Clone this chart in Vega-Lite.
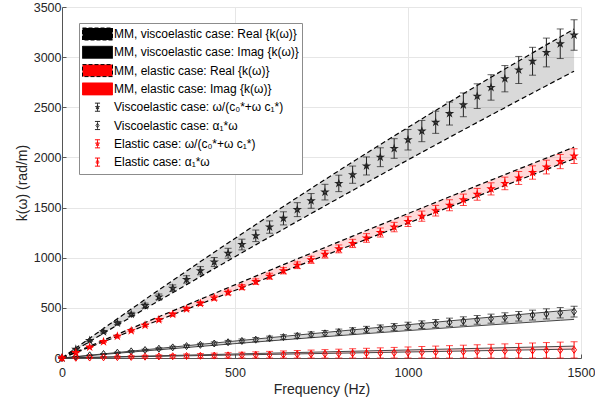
{
  "$schema": "https://vega.github.io/schema/vega-lite/v6.json",
  "width": 519,
  "height": 351,
  "autosize": {"type": "none"},
  "padding": {"left": 62, "top": 7, "right": 14, "bottom": 48},
  "config": {
    "view": {"stroke": null},
    "font": "Liberation Sans",
    "legend": {"symbolFillColor": "#000000"},
    "axis": {
      "grid": true,
      "gridColor": "#e6e6e6",
      "gridWidth": 1,
      "domainColor": "#555555",
      "tickColor": "#555555",
      "tickSize": -4,
      "format": "d",
      "labelFont": "Liberation Sans",
      "labelFontSize": 12.5,
      "labelColor": "#262626",
      "titleFont": "Liberation Sans",
      "titleFontSize": 14,
      "titleFontWeight": "normal",
      "titleColor": "#262626"
    }
  },
  "data": {"values": [
    {"f":0,"vr":0,"vrl":0,"vrh":0,"vu":0,"vd":0,"vi":0,"vil":0,"vih":0,"viu":0,"vid":0,"er":0,"erl":0,"erh":0,"eru":0,"erd":0,"ei":0,"eil":0,"eih":0,"eiu":0,"eid":0},
    {"f":40,"vr":87,"vrl":83,"vrh":91,"vu":98.6,"vd":82.4,"vi":13.4,"vil":11.8,"vih":14.9,"viu":13.8,"vid":12.0,"er":54.4,"erl":52.4,"erh":56.4,"eru":59.1,"erd":54.0,"ei":2.2,"eil":0,"eih":4.4,"eiu":3.2,"eid":2.4},
    {"f":80,"vr":174,"vrl":166,"vrh":182,"vu":196.7,"vd":164.6,"vi":26.7,"vil":23.6,"vih":29.8,"viu":27.5,"vid":23.8,"er":108.8,"erl":104.9,"erh":112.7,"eru":118.1,"erd":108.0,"ei":4.4,"eil":0,"eih":8.8,"eiu":6.4,"eid":4.8},
    {"f":120,"vr":261,"vrl":249,"vrh":273,"vu":294.2,"vd":246.5,"vi":40.0,"vil":35.4,"vih":44.6,"viu":41.2,"vid":35.6,"er":163.2,"erl":157.3,"erh":169.1,"eru":177.0,"erd":161.9,"ei":6.6,"eil":0,"eih":13.2,"eiu":9.6,"eid":7.2},
    {"f":160,"vr":348,"vrl":332,"vrh":365,"vu":391.2,"vd":328.1,"vi":53.2,"vil":47.1,"vih":59.3,"viu":54.9,"vid":47.3,"er":217.6,"erl":209.8,"erh":225.4,"eru":235.8,"erd":215.9,"ei":8.8,"eil":0,"eih":17.6,"eiu":12.8,"eid":9.6},
    {"f":200,"vr":435,"vrl":415,"vrh":456,"vu":487.6,"vd":409.4,"vi":66.4,"vil":58.8,"vih":74.0,"viu":68.5,"vid":58.9,"er":272,"erl":262.2,"erh":281.8,"eru":294.4,"erd":269.8,"ei":11,"eil":0,"eih":22,"eiu":16,"eid":12},
    {"f":240,"vr":522,"vrl":498,"vrh":547,"vu":583.4,"vd":490.4,"vi":79.5,"vil":70.4,"vih":88.7,"viu":82.1,"vid":70.5,"er":326.4,"erl":314.7,"erh":338.2,"eru":352.9,"erd":323.7,"ei":13.2,"eil":0,"eih":26.4,"eiu":19.2,"eid":14.4},
    {"f":280,"vr":609,"vrl":581,"vrh":638,"vu":678.7,"vd":571.1,"vi":92.6,"vil":82.0,"vih":103.3,"viu":95.6,"vid":81.9,"er":380.8,"erl":367.1,"erh":394.5,"eru":411.3,"erd":377.6,"ei":15.4,"eil":0,"eih":30.8,"eiu":22.4,"eid":16.8},
    {"f":320,"vr":696,"vrl":664,"vrh":729,"vu":773.5,"vd":651.5,"vi":105.7,"vil":93.5,"vih":117.8,"viu":109.1,"vid":93.2,"er":435.2,"erl":419.5,"erh":450.9,"eru":469.5,"erd":431.5,"ei":17.6,"eil":0,"eih":35.2,"eiu":25.6,"eid":19.2},
    {"f":360,"vr":783,"vrl":747,"vrh":820,"vu":867.7,"vd":731.7,"vi":118.7,"vil":105.0,"vih":132.3,"viu":122.5,"vid":104.5,"er":489.6,"erl":472.0,"erh":507.2,"eru":527.6,"erd":485.4,"ei":19.8,"eil":0,"eih":39.6,"eiu":28.8,"eid":21.6},
    {"f":400,"vr":870,"vrl":830,"vrh":911,"vu":961.3,"vd":811.6,"vi":131.6,"vil":116.5,"vih":146.7,"viu":135.9,"vid":115.7,"er":544,"erl":524.4,"erh":563.6,"eru":585.6,"erd":539.2,"ei":22,"eil":0,"eih":44,"eiu":32,"eid":24},
    {"f":440,"vr":957,"vrl":912,"vrh":1002,"vu":1054.4,"vd":891.2,"vi":144.5,"vil":127.9,"vih":161.1,"viu":149.3,"vid":126.8,"er":598.4,"erl":576.9,"erh":619.9,"eru":643.5,"erd":593.0,"ei":24.2,"eil":0,"eih":48.4,"eiu":35.2,"eid":26.4},
    {"f":480,"vr":1044,"vrl":995,"vrh":1094,"vu":1146.9,"vd":970.5,"vi":157.3,"vil":139.2,"vih":175.4,"viu":162.6,"vid":137.8,"er":652.8,"erl":629.3,"erh":676.3,"eru":701.2,"erd":646.9,"ei":26.4,"eil":0,"eih":52.8,"eiu":38.4,"eid":28.8},
    {"f":520,"vr":1132,"vrl":1078,"vrh":1185,"vu":1238.9,"vd":1049.5,"vi":170.1,"vil":150.6,"vih":189.7,"viu":175.9,"vid":148.7,"er":707.2,"erl":681.7,"erh":732.7,"eru":758.8,"erd":700.7,"ei":28.6,"eil":0,"eih":57.2,"eiu":41.6,"eid":31.2},
    {"f":560,"vr":1219,"vrl":1161,"vrh":1276,"vu":1330.3,"vd":1128.2,"vi":182.9,"vil":161.9,"vih":203.9,"viu":189.1,"vid":159.5,"er":761.6,"erl":734.2,"erh":789.0,"eru":816.3,"erd":754.4,"ei":30.8,"eil":0,"eih":61.6,"eiu":44.8,"eid":33.6},
    {"f":600,"vr":1306,"vrl":1244,"vrh":1367,"vu":1421.2,"vd":1206.6,"vi":195.6,"vil":173.1,"vih":218.1,"viu":202.3,"vid":170.3,"er":816,"erl":786.6,"erh":845.4,"eru":873.6,"erd":808.2,"ei":33,"eil":0,"eih":66,"eiu":48,"eid":36},
    {"f":640,"vr":1393,"vrl":1327,"vrh":1458,"vu":1511.5,"vd":1284.8,"vi":208.3,"vil":184.3,"vih":232.2,"viu":215.5,"vid":180.9,"er":870.4,"erl":839.1,"erh":901.7,"eru":930.8,"erd":862.0,"ei":35.2,"eil":0,"eih":70.4,"eiu":51.2,"eid":38.4},
    {"f":680,"vr":1480,"vrl":1410,"vrh":1549,"vu":1601.3,"vd":1362.7,"vi":220.9,"vil":195.5,"vih":246.3,"viu":228.6,"vid":191.5,"er":924.8,"erl":891.5,"erh":958.1,"eru":987.9,"erd":915.7,"ei":37.4,"eil":0,"eih":74.8,"eiu":54.4,"eid":40.8},
    {"f":720,"vr":1567,"vrl":1493,"vrh":1640,"vu":1690.5,"vd":1440.2,"vi":233.4,"vil":206.6,"vih":260.3,"viu":241.7,"vid":202.0,"er":979.2,"erl":944.0,"erh":1014.5,"eru":1044.9,"erd":969.4,"ei":39.6,"eil":0,"eih":79.2,"eiu":57.6,"eid":43.2},
    {"f":760,"vr":1654,"vrl":1576,"vrh":1732,"vu":1779.2,"vd":1517.5,"vi":245.9,"vil":217.7,"vih":274.2,"viu":254.7,"vid":212.4,"er":1033.6,"erl":996.4,"erh":1070.8,"eru":1101.7,"erd":1023.1,"ei":41.8,"eil":0,"eih":83.6,"eiu":60.8,"eid":45.6},
    {"f":800,"vr":1741,"vrl":1659,"vrh":1823,"vu":1867.3,"vd":1594.5,"vi":258.4,"vil":228.7,"vih":288.1,"viu":267.7,"vid":222.7,"er":1088,"erl":1048.8,"erh":1127.2,"eru":1158.4,"erd":1076.8,"ei":44,"eil":0,"eih":88,"eiu":64,"eid":48},
    {"f":840,"vr":1828,"vrl":1742,"vrh":1914,"vu":1954.8,"vd":1671.3,"vi":270.8,"vil":239.7,"vih":302.0,"viu":280.6,"vid":233.0,"er":1142.4,"erl":1101.3,"erh":1183.5,"eru":1215.0,"erd":1130.5,"ei":46.2,"eil":0,"eih":92.4,"eiu":67.2,"eid":50.4},
    {"f":880,"vr":1915,"vrl":1825,"vrh":2005,"vu":2041.8,"vd":1747.7,"vi":283.2,"vil":250.6,"vih":315.7,"viu":293.5,"vid":243.1,"er":1196.8,"erl":1153.7,"erh":1239.9,"eru":1271.4,"erd":1184.1,"ei":48.4,"eil":0,"eih":96.8,"eiu":70.4,"eid":52.8},
    {"f":920,"vr":2002,"vrl":1908,"vrh":2096,"vu":2128.3,"vd":1823.9,"vi":295.5,"vil":261.5,"vih":329.5,"viu":306.4,"vid":253.2,"er":1251.2,"erl":1206.2,"erh":1296.2,"eru":1327.7,"erd":1237.8,"ei":50.6,"eil":0,"eih":101.2,"eiu":73.6,"eid":55.2},
    {"f":960,"vr":2089,"vrl":1991,"vrh":2187,"vu":2214.2,"vd":1899.7,"vi":307.8,"vil":272.4,"vih":343.2,"viu":319.2,"vid":263.1,"er":1305.6,"erl":1258.6,"erh":1352.6,"eru":1383.9,"erd":1291.4,"ei":52.8,"eil":0,"eih":105.6,"eiu":76.8,"eid":57.6},
    {"f":1000,"vr":2176,"vrl":2074,"vrh":2278,"vu":2299.5,"vd":1975.3,"vi":320,"vil":283.2,"vih":356.8,"viu":332,"vid":273,"er":1360,"erl":1311.0,"erh":1409.0,"eru":1440,"erd":1345,"ei":55,"eil":0,"eih":110,"eiu":80,"eid":60},
    {"f":1040,"vr":2263,"vrl":2157,"vrh":2369,"vu":2384.3,"vd":2050.6,"vi":332.2,"vil":294.0,"vih":370.4,"viu":344.7,"vid":282.8,"er":1414.4,"erl":1363.5,"erh":1465.3,"eru":1495.9,"erd":1398.6,"ei":57.2,"eil":0,"eih":114.4,"eiu":83.2,"eid":62.4},
    {"f":1080,"vr":2350,"vrl":2240,"vrh":2461,"vu":2468.5,"vd":2125.6,"vi":344.3,"vil":304.7,"vih":383.9,"viu":357.4,"vid":292.5,"er":1468.8,"erl":1415.9,"erh":1521.7,"eru":1551.7,"erd":1452.2,"ei":59.4,"eil":0,"eih":118.8,"eiu":86.4,"eid":64.8},
    {"f":1120,"vr":2437,"vrl":2323,"vrh":2552,"vu":2552.2,"vd":2200.3,"vi":356.4,"vil":315.4,"vih":397.4,"viu":370.1,"vid":302.1,"er":1523.2,"erl":1468.4,"erh":1578.0,"eru":1607.4,"erd":1505.7,"ei":61.6,"eil":0,"eih":123.2,"eiu":89.6,"eid":67.2},
    {"f":1160,"vr":2524,"vrl":2406,"vrh":2643,"vu":2635.3,"vd":2274.8,"vi":368.4,"vil":326.0,"vih":410.8,"viu":382.7,"vid":311.7,"er":1577.6,"erl":1520.8,"erh":1634.4,"eru":1663.0,"erd":1559.3,"ei":63.8,"eil":0,"eih":127.6,"eiu":92.8,"eid":69.6},
    {"f":1200,"vr":2611,"vrl":2488,"vrh":2734,"vu":2717.9,"vd":2348.9,"vi":380.4,"vil":336.7,"vih":424.1,"viu":395.3,"vid":321.1,"er":1632,"erl":1573.2,"erh":1690.8,"eru":1718.4,"erd":1612.8,"ei":66,"eil":0,"eih":132,"eiu":96,"eid":72},
    {"f":1240,"vr":2698,"vrl":2571,"vrh":2825,"vu":2799.9,"vd":2422.8,"vi":392.3,"vil":347.2,"vih":437.5,"viu":407.8,"vid":330.5,"er":1686.4,"erl":1625.7,"erh":1747.1,"eru":1773.7,"erd":1666.3,"ei":68.2,"eil":0,"eih":136.4,"eiu":99.2,"eid":74.4},
    {"f":1280,"vr":2785,"vrl":2654,"vrh":2916,"vu":2881.4,"vd":2496.3,"vi":404.2,"vil":357.7,"vih":450.7,"viu":420.3,"vid":339.8,"er":1740.8,"erl":1678.1,"erh":1803.5,"eru":1828.9,"erd":1719.8,"ei":70.4,"eil":0,"eih":140.8,"eiu":102.4,"eid":76.8},
    {"f":1320,"vr":2872,"vrl":2737,"vrh":3007,"vu":2962.3,"vd":2569.6,"vi":416.1,"vil":368.2,"vih":463.9,"viu":432.8,"vid":349.0,"er":1795.2,"erl":1730.6,"erh":1859.8,"eru":1883.9,"erd":1773.3,"ei":72.6,"eil":0,"eih":145.2,"eiu":105.6,"eid":79.2},
    {"f":1360,"vr":2959,"vrl":2820,"vrh":3098,"vu":3042.6,"vd":2642.6,"vi":427.9,"vil":378.7,"vih":477.1,"viu":445.2,"vid":358.1,"er":1849.6,"erl":1783.0,"erh":1916.2,"eru":1938.8,"erd":1826.8,"ei":74.8,"eil":0,"eih":149.6,"eiu":108.8,"eid":81.6},
    {"f":1400,"vr":3046,"vrl":2903,"vrh":3190,"vu":3122.4,"vd":2715.4,"vi":439.6,"vil":389.0,"vih":490.2,"viu":457.5,"vid":367.1,"er":1904,"erl":1835.5,"erh":1972.5,"eru":1993.6,"erd":1880.2,"ei":77,"eil":0,"eih":154,"eiu":112,"eid":84},
    {"f":1440,"vr":3133,"vrl":2986,"vrh":3281,"vu":3201.7,"vd":2787.8,"vi":451.3,"vil":399.4,"vih":503.2,"viu":469.8,"vid":376.0,"er":1958.4,"erl":1887.9,"erh":2028.9,"eru":2048.3,"erd":1933.6,"ei":79.2,"eil":0,"eih":158.4,"eiu":115.2,"eid":86.4},
    {"f":1480,"vr":3220,"vrl":3069,"vrh":3372,"vu":3280.4,"vd":2859.9,"vi":462.9,"vil":409.7,"vih":516.2,"viu":482.1,"vid":384.9,"er":2012.8,"erl":1940.3,"erh":2085.3,"eru":2102.8,"erd":1987.1,"ei":81.4,"eil":0,"eih":162.8,"eiu":118.4,"eid":88.8}
  ]},
  "encoding": {
    "x": {"field": "f", "type": "quantitative",
      "scale": {"domain": [0, 1500], "nice": false, "zero": false},
      "axis": {"title": "Frequency (Hz)", "values": [0, 500, 1000, 1500], "labelFlush": false, "labelPadding": 12, "titlePadding": 4}}
  },
  "layer": [
    {"mark": {"type": "area", "color": "#000000", "fillOpacity": 0.15},
     "encoding": {
       "y": {"field": "vd", "type": "quantitative", "title": "k(ω) (rad/m)",
         "scale": {"domain": [0, 3500], "nice": false},
         "axis": {"title": "k(ω) (rad/m)", "values": [0, 500, 1000, 1500, 2000, 2500, 3000, 3500], "labelPadding": 5, "titlePadding": 4}},
       "y2": {"field": "vu"}}},
    {"mark": {"type": "area", "color": "#ff0000", "fillOpacity": 0.15},
     "encoding": {"y": {"field": "erd", "type": "quantitative", "title": "k(ω) (rad/m)"}, "y2": {"field": "eru"}}},
    {"mark": {"type": "area", "color": "#000000", "fillOpacity": 0.15},
     "encoding": {"y": {"field": "vid", "type": "quantitative", "title": "k(ω) (rad/m)"}, "y2": {"field": "viu"}}},
    {"mark": {"type": "area", "color": "#ff0000", "fillOpacity": 0.15},
     "encoding": {"y": {"field": "eid", "type": "quantitative", "title": "k(ω) (rad/m)"}, "y2": {"field": "eiu"}}},
    {"mark": {"type": "line", "color": "#000000", "strokeDash": [5, 3], "strokeWidth": 1.2},
     "encoding": {"y": {"field": "vu", "type": "quantitative", "title": "k(ω) (rad/m)"}}},
    {"mark": {"type": "line", "color": "#000000", "strokeDash": [5, 3], "strokeWidth": 1.2},
     "encoding": {"y": {"field": "vd", "type": "quantitative", "title": "k(ω) (rad/m)"}}},
    {"mark": {"type": "line", "color": "#000000", "strokeDash": [5, 3], "strokeWidth": 1.2},
     "encoding": {"y": {"field": "eru", "type": "quantitative", "title": "k(ω) (rad/m)"}}},
    {"mark": {"type": "line", "color": "#000000", "strokeDash": [5, 3], "strokeWidth": 1.2},
     "encoding": {"y": {"field": "erd", "type": "quantitative", "title": "k(ω) (rad/m)"}}},
    {"mark": {"type": "line", "color": "#333333", "strokeWidth": 0.9},
     "encoding": {"y": {"field": "viu", "type": "quantitative", "title": "k(ω) (rad/m)"}}},
    {"mark": {"type": "line", "color": "#333333", "strokeWidth": 0.9},
     "encoding": {"y": {"field": "vid", "type": "quantitative", "title": "k(ω) (rad/m)"}}},
    {"mark": {"type": "line", "color": "#333333", "strokeWidth": 0.9},
     "encoding": {"y": {"field": "eiu", "type": "quantitative", "title": "k(ω) (rad/m)"}}},
    {"mark": {"type": "line", "color": "#333333", "strokeWidth": 0.9},
     "encoding": {"y": {"field": "eid", "type": "quantitative", "title": "k(ω) (rad/m)"}}},
    {"mark": {"type": "errorbar", "ticks": true, "size": 7, "thickness": 1, "color": "#222222"},
     "encoding": {"y": {"field": "vrl", "type": "quantitative", "title": "k(ω) (rad/m)"}, "y2": {"field": "vrh"}}},
    {"mark": {"type": "errorbar", "ticks": true, "size": 7, "thickness": 1, "color": "#222222"},
     "encoding": {"y": {"field": "vil", "type": "quantitative", "title": "k(ω) (rad/m)"}, "y2": {"field": "vih"}}},
    {"mark": {"type": "errorbar", "ticks": true, "size": 7, "thickness": 1, "color": "#ff0000"},
     "encoding": {"y": {"field": "erl", "type": "quantitative", "title": "k(ω) (rad/m)"}, "y2": {"field": "erh"}}},
    {"mark": {"type": "errorbar", "ticks": true, "size": 7, "thickness": 1, "color": "#ff0000"},
     "encoding": {"y": {"field": "eil", "type": "quantitative", "title": "k(ω) (rad/m)"}, "y2": {"field": "eih"}}},
    {"mark": {"type": "point", "shape": "M0,-1L0.2245,-0.309L0.951,-0.309L0.363,0.118L0.588,0.809L0,0.382L-0.588,0.809L-0.363,0.118L-0.951,-0.309L-0.2245,-0.309Z", "size": 36, "filled": false, "color": "#222222", "strokeWidth": 1.2, "opacity": 1},
     "encoding": {"y": {"field": "vr", "type": "quantitative", "title": "k(ω) (rad/m)"}}},
    {"mark": {"type": "point", "shape": "M0,-1L0.7,0L0,1L-0.7,0Z", "size": 49, "filled": false, "color": "#222222", "strokeWidth": 1, "opacity": 1},
     "encoding": {"y": {"field": "vi", "type": "quantitative", "title": "k(ω) (rad/m)"}}},
    {"mark": {"type": "point", "shape": "M0,-1L0.2245,-0.309L0.951,-0.309L0.363,0.118L0.588,0.809L0,0.382L-0.588,0.809L-0.363,0.118L-0.951,-0.309L-0.2245,-0.309Z", "size": 36, "filled": false, "color": "#ff0000", "strokeWidth": 1.2, "opacity": 1},
     "encoding": {"y": {"field": "er", "type": "quantitative", "title": "k(ω) (rad/m)"}}},
    {"mark": {"type": "point", "shape": "M0,-1L0.7,0L0,1L-0.7,0Z", "size": 49, "filled": false, "color": "#ff0000", "strokeWidth": 1, "opacity": 1},
     "encoding": {"y": {"field": "ei", "type": "quantitative", "title": "k(ω) (rad/m)"}}},
    {"data": {"values": [
       {"s": "MM, viscoelastic case: Real {k(ω)}"},
       {"s": "MM, viscoelastic case: Imag {k(ω)}"},
       {"s": "MM, elastic case: Real {k(ω)}"},
       {"s": "MM, elastic case: Imag {k(ω)}"},
       {"s": "Viscoelastic case: ω/(c₀*+ω c₁*)"},
       {"s": "Viscoelastic case: α₁*ω"},
       {"s": "Elastic case: ω/(c₀*+ω c₁*)"},
       {"s": "Elastic case: α₁*ω"}
     ]},
     "mark": {"type": "point", "filled": true, "strokeWidth": 1},
     "encoding": {
       "shape": {"field": "s", "type": "nominal",
         "scale": {
           "domain": ["MM, viscoelastic case: Real {k(ω)}", "MM, viscoelastic case: Imag {k(ω)}", "MM, elastic case: Real {k(ω)}", "MM, elastic case: Imag {k(ω)}", "Viscoelastic case: ω/(c₀*+ω c₁*)", "Viscoelastic case: α₁*ω", "Elastic case: ω/(c₀*+ω c₁*)", "Elastic case: α₁*ω"],
           "range": [
             "M-1,-0.4H1V0.4H-1Z",
             "M-1,-0.4H1V0.4H-1Z",
             "M-1,-0.4H1V0.4H-1Z",
             "M-1,-0.4H1V0.4H-1Z",
             "M0,-0.27V0.27M-0.17,-0.27H0.17M-0.17,0.27H0.17M0,-0.14L0.031,-0.043L0.133,-0.043L0.051,0.017L0.082,0.113L0,0.053L-0.082,0.113L-0.051,0.017L-0.133,-0.043L-0.031,-0.043Z",
             "M0,-0.27V0.27M-0.17,-0.27H0.17M-0.17,0.27H0.17M0,-0.15L0.1,0L0,0.15L-0.1,0Z",
             "M0,-0.27V0.27M-0.17,-0.27H0.17M-0.17,0.27H0.17M0,-0.14L0.031,-0.043L0.133,-0.043L0.051,0.017L0.082,0.113L0,0.053L-0.082,0.113L-0.051,0.017L-0.133,-0.043L-0.031,-0.043Z",
             "M0,-0.27V0.27M-0.17,-0.27H0.17M-0.17,0.27H0.17M0,-0.15L0.1,0L0,0.15L-0.1,0Z"
           ]},
         "legend": {
           "orient": "none", "legendX": 17, "legendY": 16, "title": null,
           "symbolSize": 900, "clipHeight": 16, "rowPadding": 2.3, "padding": 3,
           "labelFont": "Liberation Sans", "labelFontSize": 12, "labelColor": "#000000",
           "labelOffset": 1, "labelLimit": 320, "strokeColor": "#8c8c8c", "fillColor": "#ffffff",
           "symbolStrokeWidth": 1, "symbolFillColor": "#000000", "cornerRadius": 0
         }},
       "fill": {"field": "s", "type": "nominal",
         "scale": {
           "domain": ["MM, viscoelastic case: Real {k(ω)}", "MM, viscoelastic case: Imag {k(ω)}", "MM, elastic case: Real {k(ω)}", "MM, elastic case: Imag {k(ω)}", "Viscoelastic case: ω/(c₀*+ω c₁*)", "Viscoelastic case: α₁*ω", "Elastic case: ω/(c₀*+ω c₁*)", "Elastic case: α₁*ω"],
           "range": ["#000000", "#000000", "#ff0000", "#ff0000", "transparent", "transparent", "transparent", "transparent"]}},
       "stroke": {"field": "s", "type": "nominal",
         "scale": {
           "domain": ["MM, viscoelastic case: Real {k(ω)}", "MM, viscoelastic case: Imag {k(ω)}", "MM, elastic case: Real {k(ω)}", "MM, elastic case: Imag {k(ω)}", "Viscoelastic case: ω/(c₀*+ω c₁*)", "Viscoelastic case: α₁*ω", "Elastic case: ω/(c₀*+ω c₁*)", "Elastic case: α₁*ω"],
           "range": ["#000000", "#000000", "#000000", "#ff0000", "#222222", "#222222", "#ff0000", "#ff0000"]}},
       "strokeDash": {"field": "s", "type": "nominal",
         "scale": {
           "domain": ["MM, viscoelastic case: Real {k(ω)}", "MM, viscoelastic case: Imag {k(ω)}", "MM, elastic case: Real {k(ω)}", "MM, elastic case: Imag {k(ω)}", "Viscoelastic case: ω/(c₀*+ω c₁*)", "Viscoelastic case: α₁*ω", "Elastic case: ω/(c₀*+ω c₁*)", "Elastic case: α₁*ω"],
           "range": [[4, 2], [1, 0], [4, 2], [1, 0], [1, 0], [1, 0], [1, 0], [1, 0]]}},
       "opacity": {"value": 0}
     }}
  ]
}
